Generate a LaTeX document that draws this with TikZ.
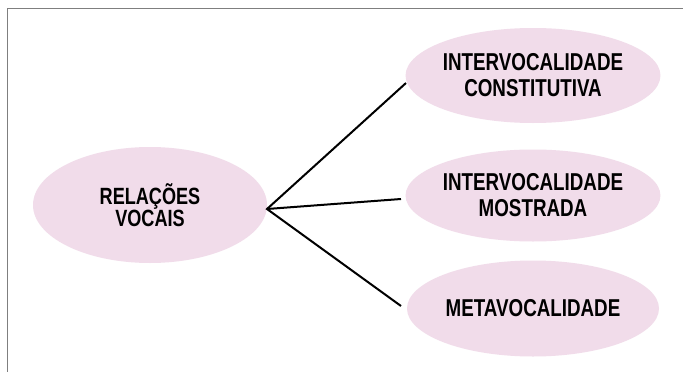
\documentclass[tikz,border=0pt]{standalone}
\usepackage{fontspec}
\setmainfont{Liberation Sans}[FakeStretch=0.77]
\usetikzlibrary{shapes.geometric}
\definecolor{ellfill}{HTML}{F1DCEA}
\definecolor{framegray}{HTML}{7F7F7F}
\begin{document}
\begin{tikzpicture}[x=1pt,y=-1pt,
  bubble/.style={ellipse, fill=ellfill, draw=none, inner sep=0pt, align=center,
    font=\fontsize{24.4}{26}\selectfont\bfseries},
  link/.style={line width=2pt, black}]
\useasboundingbox (0,0) rectangle (683,372);
\fill[white] (0,0) rectangle (683,372);
\draw[framegray, line width=1.3pt] (7.5,372) -- (7.5,8.5) -- (683,8.5);
\node[bubble, minimum width=234pt, minimum height=116pt,
  font=\fontsize{23.5}{21.5}\selectfont\bfseries] (root) at (150,205) {RELAÇÕES\\VOCAIS};
\node[bubble, minimum width=252pt, minimum height=95pt] (a) at (533,75.5) {INTERVOCALIDADE\\CONSTITUTIVA};
\node[bubble, minimum width=252pt, minimum height=92pt] (b) at (533,195.5) {INTERVOCALIDADE\\MOSTRADA};
\node[bubble, minimum width=252pt, minimum height=96pt] (c) at (533,308.5) {METAVOCALIDADE};
\coordinate (hub) at (267,209);
\coordinate (ea) at (406,83);
\coordinate (eb) at (401,199);
\coordinate (ec) at (401,306);
\draw[link] (ea) -- (hub) -- (ec);
\draw[link] (hub) -- (eb);
\end{tikzpicture}
\end{document}
